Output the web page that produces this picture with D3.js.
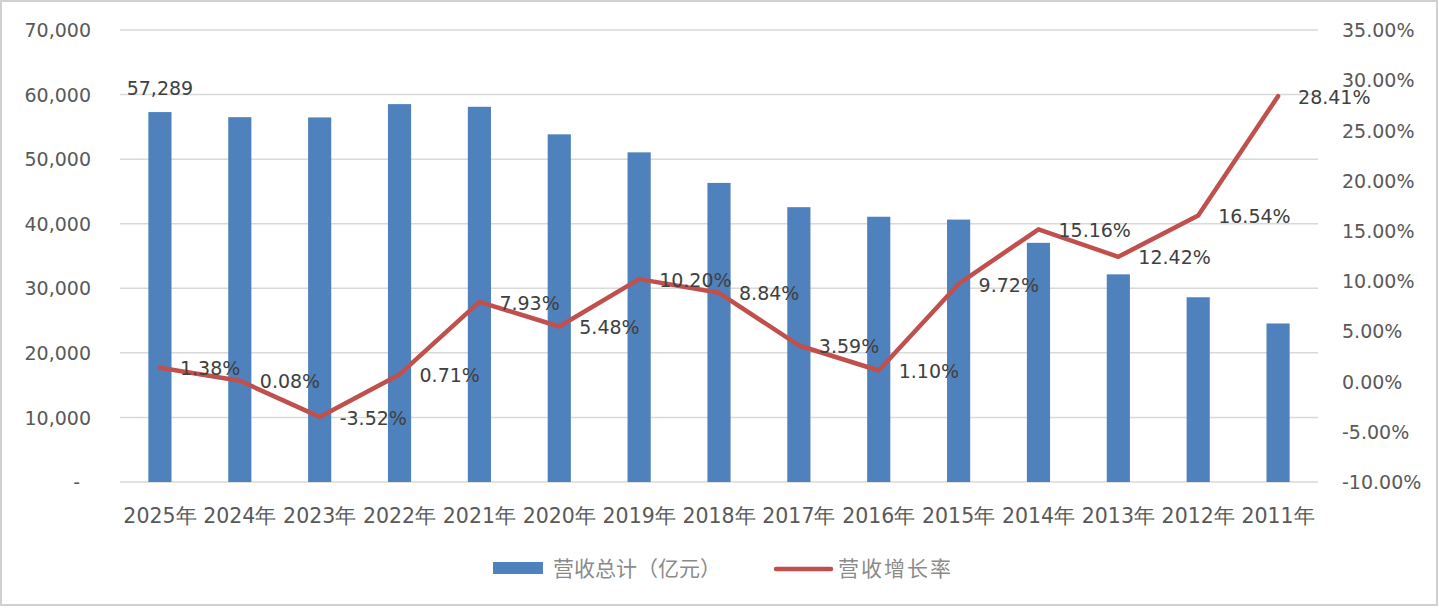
<!DOCTYPE html>
<html><head><meta charset="utf-8">
<script src="https://cdn.jsdelivr.net/npm/d3@7"></script>
<style>
html,body{margin:0;padding:0;background:#fff;}
svg{display:block;}
</style>
</head><body>
<svg id="chart" width="1439" height="608"></svg>
<script>
const years = ["2025年","2024年","2023年","2022年","2021年","2020年","2019年","2018年","2017年","2016年","2015年","2014年","2013年","2012年","2011年"];
const revenue = [57289,56500,56460,58520,58110,53840,51050,46320,42560,41080,40640,37040,32160,28610,24550];
const growth = [1.38,0.08,-3.52,0.71,7.93,5.48,10.20,8.84,3.59,1.10,9.72,15.16,12.42,16.54,28.41];
const leftTicks = [0,10000,20000,30000,40000,50000,60000,70000];
const rightTicks = [-10,-5,0,5,10,15,20,25,30,35];
const seriesNames = ["营收总计（亿元）","营收增长率"];

const loc = d3.formatLocale({decimal:".", thousands:",", grouping:[3], currency:["",""], minus:"-"});
const fmtInt = loc.format(",");
const fmtPct = v => loc.format(".2f")(v) + "%";

const svg = d3.select("#chart");
const M = {left:120, right:1318, top:30, bottom:482};
const blue = "#4f81bd", red = "#c0504d", grid = "#d9d9d9";
const numFont = "'DejaVu Sans', sans-serif";

// border
svg.append("rect").attr("x",1).attr("y",1).attr("width",1436).attr("height",604)
  .attr("fill","#fff").attr("stroke","#d0d0d0").attr("stroke-width",2);

const x = d3.scaleBand().domain(years).range([M.left, M.right]).paddingInner(0.71).paddingOuter(0.355);
const yL = d3.scaleLinear().domain([0,70000]).range([M.bottom, M.top]);
const yR = d3.scaleLinear().domain([-10,35]).range([M.bottom, M.top]);

// gridlines
svg.append("g").selectAll("line").data(leftTicks).join("line")
  .attr("x1",M.left).attr("x2",M.right)
  .attr("y1",d=>yL(d)).attr("y2",d=>yL(d))
  .attr("stroke",grid).attr("stroke-width",1.5);

// left axis
const axL = d3.axisLeft(yL).tickValues(leftTicks).tickSize(0).tickPadding(0)
  .tickFormat(d => d===0 ? "-" : fmtInt(d));
const gL = svg.append("g").attr("transform","translate(91,0)").call(axL);
gL.select(".domain").remove();
gL.selectAll("text").attr("font-family",numFont).attr("font-size",19).attr("fill","#595959")
  .attr("dy","0.35em")
  .attr("dx", d => d===0 ? -11 : 0);

// right axis
const axR = d3.axisRight(yR).tickValues(rightTicks).tickSize(0).tickPadding(0)
  .tickFormat(fmtPct);
const gR = svg.append("g").attr("transform","translate(1342,0)").call(axR);
gR.select(".domain").remove();
gR.selectAll("text").attr("font-family",numFont).attr("font-size",19).attr("fill","#595959").attr("dy","0.35em");

// bars
svg.append("g").selectAll("rect").data(years).join("rect")
  .attr("x",d=>x(d)).attr("width",x.bandwidth())
  .attr("y",(d,i)=>yL(revenue[i])).attr("height",(d,i)=>yL(0)-yL(revenue[i]))
  .attr("fill",blue);

// x axis labels
const axX = d3.axisBottom(x).tickSize(0).tickPadding(0);
const gX = svg.append("g").attr("transform",`translate(0,${M.bottom})`).call(axX);
gX.select(".domain").remove();
gX.selectAll("text").attr("font-family",numFont).attr("font-size",20.5).attr("fill","#595959")
  .attr("y",0).attr("dy","41");

// first bar label
svg.append("text").attr("x",x(years[0])+x.bandwidth()/2).attr("y",yL(revenue[0])-24)
  .attr("dy","0.35em").attr("text-anchor","middle")
  .attr("font-family",numFont).attr("font-size",19).attr("fill","#404040")
  .text(fmtInt(revenue[0]));

// line
const cx = d => x(d)+x.bandwidth()/2;
const line = d3.line().x((d,i)=>cx(years[i])).y(d=>yR(d));
svg.append("path").datum(growth).attr("d",line)
  .attr("fill","none").attr("stroke",red).attr("stroke-width",4.5)
  .attr("stroke-linejoin","round").attr("stroke-linecap","round");

// line labels
svg.append("g").selectAll("text").data(growth).join("text")
  .attr("x",(d,i)=>cx(years[i])+20).attr("y",d=>yR(d)+1).attr("dy","0.35em")
  .attr("font-family",numFont).attr("font-size",19).attr("fill","#404040")
  .text(d=>fmtPct(d));

// legend
const lg = svg.append("g");
lg.append("rect").attr("x",493).attr("y",562).attr("width",50).attr("height",12).attr("fill",blue);
lg.append("text").attr("x",553).attr("y",568).attr("dy","0.36em")
  .attr("font-family","'Noto Sans CJK SC', sans-serif").attr("font-size",21).attr("fill","#8a8a8a")
  .text(seriesNames[0]);
lg.append("line").attr("x1",776).attr("x2",831).attr("y1",569).attr("y2",569)
  .attr("stroke",red).attr("stroke-width",4.5).attr("stroke-linecap","round");
lg.append("text").attr("x",838).attr("y",568).attr("dy","0.36em")
  .attr("font-family","'Noto Sans CJK SC', sans-serif").attr("font-size",21).attr("fill","#8a8a8a")
  .attr("letter-spacing",2)
  .text(seriesNames[1]);
</script>
</body></html>
